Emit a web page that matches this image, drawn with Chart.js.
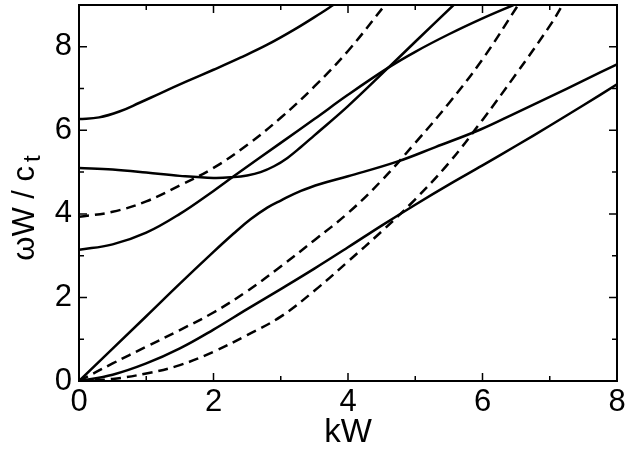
<!DOCTYPE html>
<html>
<head>
<meta charset="utf-8">
<script src="https://cdn.jsdelivr.net/npm/chart.js@4.4.0/dist/chart.umd.min.js"></script>
<style>
  html, body { margin: 0; padding: 0; background: #fff; }
</style>
</head>
<body>
<canvas id="grafica" width="626" height="453"></canvas>
<script>
// modos solidos
let s1X = [0, 0.3, 0.6, 0.9, 1.2, 1.6, 2.0, 2.4, 2.8, 3.2, 3.6, 3.78];
let s1Y = [6.27, 6.31, 6.45, 6.66, 6.88, 7.17, 7.45, 7.74, 8.05, 8.41, 8.81, 9.0];
let s2X = [0, 0.5, 1, 1.5, 2, 2.3, 2.5, 2.7, 2.9, 3.1, 3.3, 3.5, 4, 4.6, 5, 5.57];
let s2Y = [5.1, 5.06, 4.99, 4.91, 4.86, 4.88, 4.92, 5.0, 5.14, 5.34, 5.6, 5.88, 6.58, 7.5, 8.12, 9.0];
let s3X = [0, 0.5, 1, 1.5, 2, 2.3, 3, 3.5, 4, 4.6, 5, 5.5, 6, 6.46];
let s3Y = [3.14, 3.27, 3.55, 4.0, 4.55, 4.9, 5.7, 6.27, 6.85, 7.5, 7.88, 8.3, 8.68, 9.0];
let s4X = [0, 1, 1.5, 2, 2.3, 2.55, 2.8, 3, 3.3, 3.6, 4, 4.73, 5.3, 5.97, 6.5, 7, 7.5, 8];
let s4Y = [0, 1.55, 2.33, 3.09, 3.53, 3.87, 4.15, 4.32, 4.55, 4.72, 4.9, 5.25, 5.6, 6.02, 6.42, 6.8, 7.19, 7.58];
let s5X = [0, 0.5, 1, 1.5, 2, 2.5, 3, 3.5, 4, 4.5, 5, 5.5, 6, 6.5, 7, 7.5, 8];
let s5Y = [0, 0.15, 0.42, 0.78, 1.23, 1.72, 2.2, 2.69, 3.2, 3.72, 4.22, 4.7, 5.16, 5.63, 6.11, 6.6, 7.1];
// modos punteados
let d1X = [0, 0.5, 1, 1.5, 2, 2.5, 3, 3.5, 4, 4.55];
let d1Y = [3.93, 4.05, 4.3, 4.68, 5.1, 5.65, 6.3, 7.05, 7.9, 9.0];
let d2X = [0, 0.5, 1, 1.5, 2, 2.5, 3, 3.5, 4, 4.5, 5, 5.5, 6, 6.53];
let d2Y = [0, 0.42, 0.82, 1.22, 1.64, 2.15, 2.74, 3.37, 4.02, 4.8, 5.7, 6.65, 7.7, 9.0];
let d3X = [0, 0.5, 1, 1.5, 2, 2.5, 3, 3.5, 4, 4.5, 5, 5.5, 6, 6.5, 7, 7.19];
let d3Y = [0, 0.05, 0.18, 0.38, 0.7, 1.1, 1.54, 2.16, 2.86, 3.58, 4.35, 5.22, 6.25, 7.35, 8.5, 9.0];

let fuente = '"Liberation Sans", Arial, Helvetica, sans-serif';

function puntos(xs, ys) {
  let res = [];
  for (var i = 0; i < xs.length; i++) {
    res.push({x: xs[i], y: ys[i]});
  }
  return res;
}

function serie(xs, ys, punteado) {
  return {
    data: puntos(xs, ys),
    showLine: true,
    borderColor: '#000',
    borderWidth: 2.5,
    borderDash: punteado ? [10, 6] : [],
    pointRadius: 0,
    tension: 0.4,
    fill: false
  };
}

// marco, ticks hacia adentro y titulo del eje y
const marco = {
  id: 'marco',
  afterDraw(chart) {
    let ctx = chart.ctx;
    let a = chart.chartArea;
    let sx = chart.scales.x, sy = chart.scales.y;
    ctx.save();
    ctx.strokeStyle = '#000';
    ctx.lineWidth = 2;
    ctx.strokeRect(a.left, a.top, a.right - a.left, a.bottom - a.top);
    ctx.lineWidth = 1.5;
    ctx.beginPath();
    sx.ticks.forEach(t => {
      let px = sx.getPixelForValue(t.value);
      let len = t.value % 2 === 0 ? 8 : 5;
      ctx.moveTo(px, a.bottom); ctx.lineTo(px, a.bottom - len);
      ctx.moveTo(px, a.top); ctx.lineTo(px, a.top + len);
    });
    sy.ticks.forEach(t => {
      let py = sy.getPixelForValue(t.value);
      let len = t.value % 2 === 0 ? 8 : 5;
      ctx.moveTo(a.left, py); ctx.lineTo(a.left + len, py);
      ctx.moveTo(a.right, py); ctx.lineTo(a.right - len, py);
    });
    ctx.stroke();

    ctx.fillStyle = '#000';
    ctx.translate(34, 208);
    ctx.rotate(-Math.PI / 2);
    ctx.textBaseline = 'alphabetic';
    ctx.textAlign = 'left';
    let principal = '\u03c9W / c';
    ctx.font = '31px ' + fuente;
    let w1 = ctx.measureText(principal).width;
    ctx.font = '24px ' + fuente;
    let w2 = ctx.measureText('t').width;
    let inicio = -(w1 + 4 + w2) / 2;
    ctx.font = '31px ' + fuente;
    ctx.fillText(principal, inicio, 0);
    ctx.font = '24px ' + fuente;
    ctx.fillText('t', inicio + w1 + 4, 6);
    ctx.restore();
  }
};

let ctx = document.getElementById('grafica').getContext('2d');
let chart = new Chart(ctx, {
  type: 'scatter',
  data: {
    datasets: [
      serie(s1X, s1Y, false),
      serie(s2X, s2Y, false),
      serie(s3X, s3Y, false),
      serie(s4X, s4Y, false),
      serie(s5X, s5Y, false),
      serie(d1X, d1Y, true),
      serie(d2X, d2Y, true),
      serie(d3X, d3Y, true)
    ]
  },
  options: {
    responsive: false,
    animation: false,
    layout: { padding: { top: 5, right: 9, left: 0, bottom: 0 } },
    plugins: { legend: { display: false }, tooltip: { enabled: false } },
    scales: {
      x: {
        type: 'linear', min: 0, max: 8,
        grid: { display: false, drawTicks: false },
        border: { display: false },
        ticks: {
          stepSize: 1, padding: 3, color: '#000', autoSkip: false, maxRotation: 0,
          font: { family: fuente, size: 31 },
          callback: v => (v % 2 === 0 ? v : '')
        },
        title: {
          display: true, text: 'kW', color: '#000',
          font: { family: fuente, size: 33 },
          padding: { top: 0, bottom: 0 }
        },
        afterFit: s => { s.height = 72; s.paddingLeft = 0; s.paddingRight = 0; }
      },
      y: {
        type: 'linear', min: 0, max: 9,
        grid: { display: false, drawTicks: false },
        border: { display: false },
        ticks: {
          stepSize: 1, padding: 7, color: '#000', autoSkip: false,
          font: { family: fuente, size: 31 },
          callback: v => (v % 2 === 0 ? v : '')
        },
        afterFit: s => { s.width = 79; s.paddingTop = 0; s.paddingBottom = 0; }
      }
    }
  },
  plugins: [marco]
});
</script>
</body>
</html>
